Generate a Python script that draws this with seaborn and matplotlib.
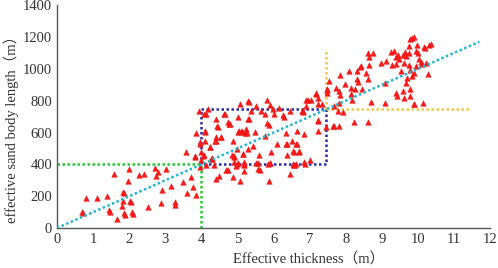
import matplotlib
matplotlib.use("Agg")
import matplotlib.pyplot as plt
import seaborn as sns
import pandas as pd
import numpy as np

# Effective thickness (m) and effective sand body length (m)
thickness = [
    0.69, 0.72, 0.81, 1.12, 1.38, 1.43, 1.47, 1.57, 1.65, 1.80, 1.82, 1.82, 1.86, 1.86, 1.89,
    1.97, 2.00, 2.02, 2.05, 2.07, 2.11, 2.28, 2.41, 2.51, 2.71, 2.74, 2.79, 2.88, 2.90, 3.03,
    3.15, 3.26, 3.26, 3.49, 3.57, 3.59, 3.70, 3.77, 3.84, 3.81, 3.84, 3.95, 3.97, 4.00, 4.06,
    4.09, 4.12, 4.27, 4.25, 4.36, 4.41, 4.50, 4.39, 4.54, 4.69, 4.87, 4.85, 4.89, 4.98, 4.96,
    4.98, 5.06, 5.02, 5.15, 5.19, 5.22, 5.28,
    3.93, 4.18, 4.14, 4.41, 4.46, 4.62, 4.73, 4.76, 5.01, 5.06, 5.29, 5.29, 5.24, 5.11,
    4.06, 4.09, 3.95, 4.11, 4.25, 4.00, 3.82, 4.05, 4.28, 4.37, 4.43, 4.39, 4.55, 4.64, 4.78,
    4.87, 4.90, 4.73, 4.90, 5.04, 5.10, 5.15, 5.19, 5.17, 5.26, 5.31, 5.38, 5.31, 5.42, 5.47,
    5.52, 5.56, 5.59, 5.61, 5.66, 5.75, 5.77, 5.81, 5.81, 5.86, 5.84, 5.90, 5.99, 6.02, 6.09,
    6.16, 6.27, 6.30, 6.33, 6.36, 6.34, 6.36, 6.44, 6.44, 6.51, 6.53, 6.57, 6.62, 6.69, 6.64,
    6.62, 6.78, 6.85, 6.85, 6.90, 6.96, 7.03, 7.02, 7.17, 7.22, 7.23, 7.65,
    4.28, 5.01, 5.18, 5.56, 5.52, 5.88, 5.90, 6.57, 6.88, 5.93, 6.53, 6.69, 6.65, 5.90, 6.55,
    6.80, 7.17, 7.22, 7.35, 7.47, 7.49, 7.54, 7.66, 7.77, 7.91, 7.74, 7.80, 7.83, 7.83, 7.97,
    8.09, 8.14, 8.14, 8.16, 8.26, 8.30, 8.35, 8.32, 8.39, 8.41, 8.46, 8.55, 8.64, 8.60, 8.64,
    8.75, 8.97, 9.08, 9.12, 9.24, 9.33, 9.29, 9.38, 9.40, 9.45, 9.47, 9.58, 9.64, 9.67, 9.75,
    9.52, 9.61, 9.75, 9.79, 9.84, 9.88, 9.75, 9.79, 9.84, 9.93, 9.98, 10.00, 10.02, 9.93, 10.07,
    10.11, 10.16, 10.21, 10.19, 10.30, 10.37, 10.28, 9.88, 9.66, 9.70, 9.40, 9.42, 9.58, 9.61, 9.77,
    9.77, 9.88, 10.13, 9.08, 8.69, 8.60, 7.82, 9.90, 8.62, 8.23, 7.68, 7.82, 7.48, 7.22, 6.90,
    6.82, 7.45, 7.22,
]
length = [
    100, 93, 187, 191, 203, 114, 100, 342, 56, 141, 172, 228, 218, 93, 83,
    294, 371, 172, 162, 104, 87, 336, 342, 131, 379, 328, 354, 160, 238, 369,
    263, 164, 145, 290, 475, 218, 321, 255, 207, 452, 595, 529, 384, 429, 456,
    605, 394, 435, 512, 398, 549, 330, 305, 574, 363, 321, 456, 446, 404, 388,
    498, 296, 605, 462, 394, 595, 498,
    736, 746, 715, 684, 636, 719, 663, 655, 698, 777, 684, 798, 622, 611,
    715, 607, 539, 549, 508, 476, 445, 450, 435, 549, 642, 570, 574, 715, 653,
    549, 451, 363, 414, 611, 601, 466, 414, 356, 595, 792, 736, 684, 518, 601,
    767, 408, 456, 363, 736, 580, 715, 802, 657, 649, 404, 773, 746, 715, 529,
    752, 711, 698, 529, 529, 595, 456, 342, 736, 549, 404, 476, 400, 476, 611,
    529, 736, 591, 414, 767, 802, 802, 425, 840, 611, 673, 642,
    441, 408, 400, 373, 408, 294, 408, 394, 404, 476, 482, 482, 529, 410, 394,
    736, 850, 777, 777, 871, 850, 922, 767, 736, 731, 881, 860, 835, 960, 905,
    984, 881, 840, 802, 871, 933, 918, 989, 1009, 1016, 871, 974, 1026, 939, 1071,
    1098, 1034, 912, 1051, 1104, 1113, 1026, 1071, 1030, 1088, 1063, 1088, 1104, 1078, 1098,
    989, 1036, 1146, 1188, 1196, 1202, 1026, 995, 953, 1113, 1150, 1098, 1063, 1020, 1042,
    1030, 1140, 1036, 1129, 1150, 1154, 968, 974, 912, 943, 850, 829, 860, 815, 871,
    829, 781, 788, 788, 794, 1098, 788, 777, 663, 663, 642, 642, 865, 818, 802,
    731, 632, 678,
]

x_ticks = list(range(0, 13))
y_ticks = list(range(0, 1401, 200))

# reference lines (data values)
trend_x = [0, 11.7]
trend_y = [0, 1170]
green_h_x = [0, 4]; green_h_y = [400, 400]
green_v_x = [4, 4]; green_v_y = [0, 400]
blue_x = [4, 4, 7.45, 7.45, 4]; blue_y = [400, 750, 750, 400, 400]
orange_v_x = [7.45, 7.45]; orange_v_y = [750, 1125]
orange_h_x = [7.45, 11.4]; orange_h_y = [750, 750]

df = pd.DataFrame({"thickness": thickness, "length": length})

sns.set_style("white")
serif = ["Liberation Serif", "Noto Sans CJK SC", "DejaVu Serif"]
plt.rcParams["font.family"] = serif

fig = plt.figure(figsize=(4.98, 2.68), dpi=100)
ax = fig.add_axes([0.1145, 0.149, 0.87, 0.832])

dot = (0, (1, 1))
ax.plot(green_h_x, green_h_y, color="#22cc33", lw=1.8, ls=dot, zorder=2)
ax.plot(green_v_x, green_v_y, color="#22cc33", lw=1.8, ls=dot, zorder=2)
ax.plot(blue_x, blue_y, color="#2a2aa8", lw=1.8, ls=dot, zorder=2)
ax.plot(orange_v_x, orange_v_y, color="#f5c842", lw=1.8, ls=dot, zorder=2)
ax.plot(orange_h_x, orange_h_y, color="#f5c842", lw=1.8, ls=dot, zorder=2)

sns.scatterplot(data=df, x="thickness", y="length", marker="^", s=16,
                color="#ff1a1a", edgecolor="#e01010", linewidth=0.3, ax=ax, zorder=3)

ax.plot(trend_x, trend_y, color="#1fb8cc", lw=1.8, ls=dot, zorder=4)

ax.set_xlim(0, 12)
ax.set_ylim(0, 1400)
ax.set_xticks(x_ticks)
ax.set_yticks(y_ticks)
ax.set_xticklabels([str(t) for t in x_ticks])
ax.set_yticklabels([str(t) for t in y_ticks])
ax.tick_params(direction="in", length=4, width=1, colors="#444444", labelsize=10.5,
               labelcolor="#333333")
for side in ["top", "right"]:
    ax.spines[side].set_visible(False)
for side in ["left", "bottom"]:
    ax.spines[side].set_color("#555555")
    ax.spines[side].set_linewidth(1)

ax.set_xlabel("Effective thickness（m）", fontsize=10.5, color="#333333")
ax.set_ylabel("effective sand body length（m）", fontsize=10.5, color="#333333")
ax.xaxis.set_label_coords(0.58, -0.105)
ax.yaxis.set_label_coords(-0.088, 0.46)

fig.savefig("out.png", dpi=100)
